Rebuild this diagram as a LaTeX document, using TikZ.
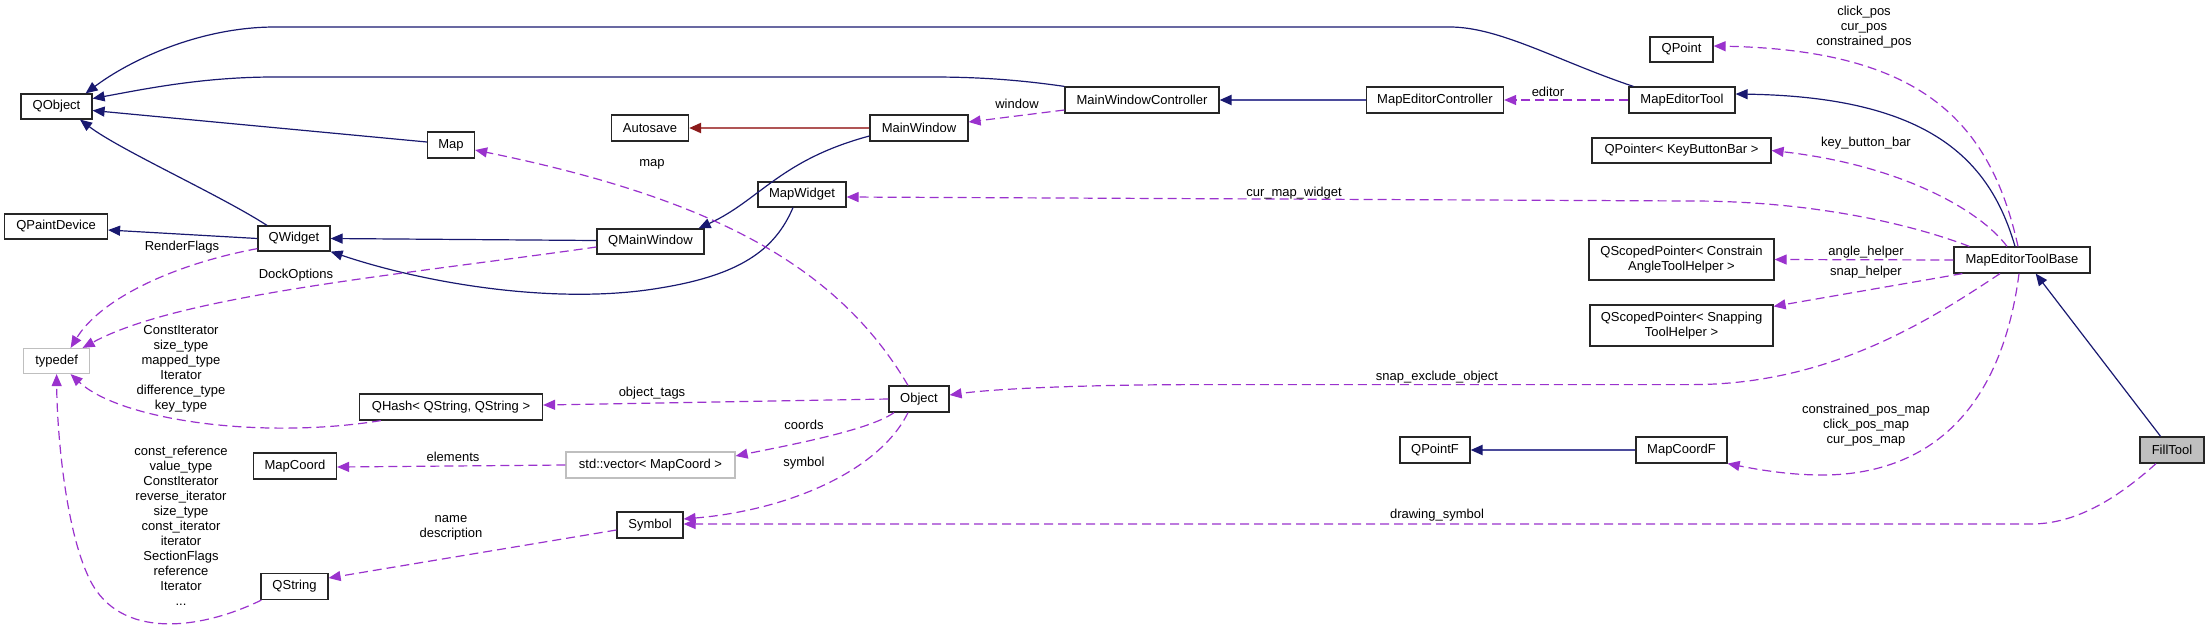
\documentclass[tikz,border=0pt]{standalone}
\usepackage{fontspec}
\setmainfont{Liberation Sans}
\usetikzlibrary{arrows.meta}
\definecolor{navyc}{HTML}{191970}
\definecolor{navyl}{HTML}{4B4B9B}
\definecolor{purp}{HTML}{9A32CD}
\definecolor{redc}{HTML}{8B1A1A}
\definecolor{redl}{HTML}{B05555}
\definecolor{grayb}{HTML}{BFBFBF}
\begin{document}
\begin{tikzpicture}[x=1pt,y=-1pt,
  font=\fontsize{13}{15}\selectfont,
  box/.style={draw=black!85, line width=1.2pt, fill=white, inner sep=2pt, minimum height=26pt, align=center},
  gbox/.style={box, draw=grayb},
  inh/.style={draw=navyc, line width=1.2pt, -{Triangle[length=12pt,width=10pt,fill=navyc]}},
  inhb/.style={draw=navyl, line width=2.2pt, -{Triangle[length=12pt,width=10pt,color=navyc,fill=navyc]}},
  priv/.style={draw=redl, line width=2.2pt, -{Triangle[length=12pt,width=10pt,color=redc,fill=redc]}},
  use/.style={draw=purp, line width=1.2pt, dash pattern=on 9pt off 5pt, -{Triangle[length=12pt,width=10pt,fill=purp]}},
  lbl/.style={inner sep=0pt, align=center}]
\useasboundingbox (0,0) rectangle (2209,625);

% nodes
\node[box, minimum width=71pt, minimum height=25pt] (QObject) at (56.5,106.5) {QObject};
\node[box, minimum width=47pt] (Map) at (451,145) {Map};
\node[box, minimum width=77pt] (Autosave) at (650,128) {Autosave};
\node[box, minimum width=103pt, minimum height=25pt] (QPaintDevice) at (56,226.5) {QPaintDevice};
\node[box, minimum width=72pt, minimum height=25pt] (QWidget) at (294,238.5) {QWidget};
\node[box, minimum width=107pt, minimum height=25pt] (QMainWindow) at (650.5,241.5) {QMainWindow};
\node[gbox, minimum width=66pt, minimum height=25pt] (typedef) at (56.6,361) {typedef};
\node[box, minimum width=183pt] (QHash) at (451,407) {QHash< QString, QString >};
\node[box, minimum width=83pt] (MapCoord) at (295,466) {MapCoord};
\node[gbox, minimum width=169pt] (stdvec) at (650.5,465) {std::vector< MapCoord >};
\node[box, minimum width=66pt] (Symbol) at (650,525) {Symbol};
\node[box, minimum width=67pt] (QString) at (294.5,586.5) {QString};
\node[box, minimum width=154pt] (MWC) at (1142,100) {MainWindowController};
\node[box, minimum width=137pt] (MEC) at (1435,100) {MapEditorController};
\node[box, minimum width=98pt] (MainWindow) at (919,128) {MainWindow};
\node[box, minimum width=88pt, minimum height=25pt] (MapWidget) at (802,194.5) {MapWidget};
\node[box, minimum width=60pt] (Object) at (919,399) {Object};
\node[box, minimum width=70pt] (QPointF) at (1435,450) {QPointF};
\node[box, minimum width=91pt] (MapCoordF) at (1681.5,450) {MapCoordF};
\node[box, minimum width=63pt, minimum height=25pt] (QPoint) at (1681.5,49.5) {QPoint};
\node[box, minimum width=106pt] (MET) at (1682,100) {MapEditorTool};
\node[box, minimum width=179pt, minimum height=25pt] (QPointer) at (1681.5,150.5) {QPointer< KeyButtonBar >};
\node[box, minimum width=185pt, minimum height=41pt] (QSPC) at (1681.5,259.5) {QScopedPointer< Constrain\\AngleToolHelper >};
\node[box, minimum width=183pt, minimum height=41pt] (QSPS) at (1681.5,325.5) {QScopedPointer< Snapping\\ToolHelper >};
\node[box, minimum width=136pt] (MEB) at (2022,260) {MapEditorToolBase};
\node[box, fill=grayb, minimum width=64pt] (FillTool) at (2172,450) {FillTool};

% inheritance
\draw[inh] ([xshift=5pt]MET.north west) .. controls (1560,62) and (1500,27) .. (1450,27) -- (275,27) .. controls (200,27) and (130,60) .. ([xshift=-7pt]QObject.north east);
\draw[inh] (MWC.north west) .. controls (1020,80) and (980,77) .. (932,77) -- (274,77) .. controls (200,77) and (140,90) .. ([yshift=8pt]QObject.east);
\draw[inh] ([yshift=3pt]Map.west) -- ([yshift=-4pt]QObject.east);
\draw[inh] ([xshift=-27pt]QWidget.north) .. controls (220,195) and (120,150) .. ([xshift=23.5pt]QObject.south);
\draw[inh] (QWidget.west) -- ([yshift=-3.5pt]QPaintDevice.east);
\draw[inh] ([yshift=1pt]QMainWindow.west) -- (QWidget.east);
\draw[inh] ([xshift=-9pt]MapWidget.south) .. controls (775,250) and (740,275) .. (660,288) .. controls (560,305) and (430,285) .. (QWidget.south east);
\draw[inh] ([yshift=-8pt]MainWindow.west) .. controls (780,160) and (760,200) .. ([xshift=-6pt]QMainWindow.north east);
\draw[inhb] (MEC.west) -- (MWC.east);
\draw[inh] ([xshift=-7pt]MEB.north) .. controls (1990,160) and (1930,97) .. ([yshift=6pt]MET.east);
\draw[inh] ([xshift=-11.4pt]FillTool.north) -- ([xshift=13.7pt]MEB.south);
\draw[inhb] (MapCoordF.west) -- (QPointF.east);
\draw[priv] (MainWindow.west) -- (Autosave.east);

% usage
\draw[use] ([yshift=-10pt]MWC.west) -- ([yshift=6pt]MainWindow.east);
\node[lbl] (lwindow) at (1017,104) {window};
\draw[use] (MET.west) -- (MEC.east);
\node[lbl] (leditor) at (1548,92) {editor};
\draw[use] ([xshift=-4pt]MEB.north) .. controls (1990,120) and (1920,50) .. ([yshift=3.5pt]QPoint.east);
\node[lbl] (lqpoint) at (1864,27) {click\_pos\\cur\_pos\\constrained\_pos};
\draw[use] ([xshift=-15pt]MEB.north) .. controls (1980,210) and (1900,165) .. (QPointer.east);
\node[lbl] (lkbb) at (1866,143) {key\_button\_bar};
\draw[use] ([xshift=16pt]MEB.north west) .. controls (1900,220) and (1800,201) .. (1692,201) -- ([yshift=-2.5pt]MapWidget.east);
\node[lbl] (lcmw) at (1294,193) {cur\_map\_widget};
\draw[use] (MEB.west) -- (QSPC.east);
\node[lbl] (lah) at (1866,252) {angle\_helper};
\draw[use] ([xshift=9pt]MEB.south west) -- ([yshift=-2pt]QSPS.north east);
\node[lbl] (lsh) at (1866,272) {snap\_helper};
\draw[use] ([xshift=-22pt]MEB.south) .. controls (1930,320) and (1830,384.6) .. (1692,384.6) -- (1200,384.6) .. controls (1100,384.6) and (1000,388) .. ([yshift=4pt]Object.east);
\node[lbl] (lseo) at (1437,377) {snap\_exclude\_object};
\draw[use] ([xshift=-3pt]MEB.south) .. controls (2000,420) and (1920,475) .. (1822,475) .. controls (1790,475) and (1760,470) .. (MapCoordF.south east);
\node[lbl] (lmcf) at (1866,425.6) {constrained\_pos\_map\\click\_pos\_map\\cur\_pos\_map};
\draw[use] ([xshift=-16pt]FillTool.south) .. controls (2110,505) and (2070,524) .. (2031,524) -- ([yshift=1pt]Symbol.east);
\node[lbl] (lds) at (1437,515.6) {drawing\_symbol};
\draw[use] ([xshift=-11pt]Object.north) .. controls (840,270) and (720,200) .. ([yshift=-5pt]Map.east);
\node[lbl] (lmap) at (652,164) {map};
\draw[use] (Object.west) -- ([yshift=2pt]QHash.east);
\node[lbl] (lot) at (652,393) {object\_tags};
\draw[use] ([xshift=-25pt]Object.south) .. controls (870,430) and (790,445) .. ([yshift=9pt]stdvec.east);
\node[lbl] (lcoords) at (804,424.6) {coords};
\draw[use] ([xshift=-11pt]Object.south) .. controls (880,470) and (790,510) .. ([yshift=6pt]Symbol.east);
\node[lbl] (lsym) at (804,463.5) {symbol};
\draw[use] (stdvec.west) -- ([yshift=-1pt]MapCoord.east);
\node[lbl] (lel) at (453,457) {elements};
\draw[use] ([yshift=-5pt]Symbol.west) -- ([yshift=8.5pt]QString.east);
\node[lbl] (lnd) at (451,527.5) {name\\description};
\draw[use] ([yshift=3pt]QWidget.south west) .. controls (170,265) and (100,300) .. ([xshift=14pt]typedef.north);
\node[lbl] (lrf) at (182,247) {RenderFlags};
\draw[use] ([yshift=-5.5pt]QMainWindow.west) .. controls (400,275) and (180,295) .. ([xshift=26pt]typedef.north);
\node[lbl] (ldo) at (296,275) {DockOptions};
\draw[use] ([xshift=22pt]QHash.south west) .. controls (260,440) and (120,420) .. ([xshift=14pt]typedef.south);
\node[lbl] (lqh) at (181,368.5) {ConstIterator\\size\_type\\mapped\_type\\Iterator\\difference\_type\\key\_type};
\draw[use] ([xshift=1pt]QString.south west) .. controls (200,630) and (120,640) .. (90,580) .. controls (65,530) and (57,430) .. (typedef.south);
\node[lbl] (lqs) at (181,526) {const\_reference\\value\_type\\ConstIterator\\reverse\_iterator\\size\_type\\const\_iterator\\iterator\\SectionFlags\\reference\\Iterator\\...};
\end{tikzpicture}
\end{document}
